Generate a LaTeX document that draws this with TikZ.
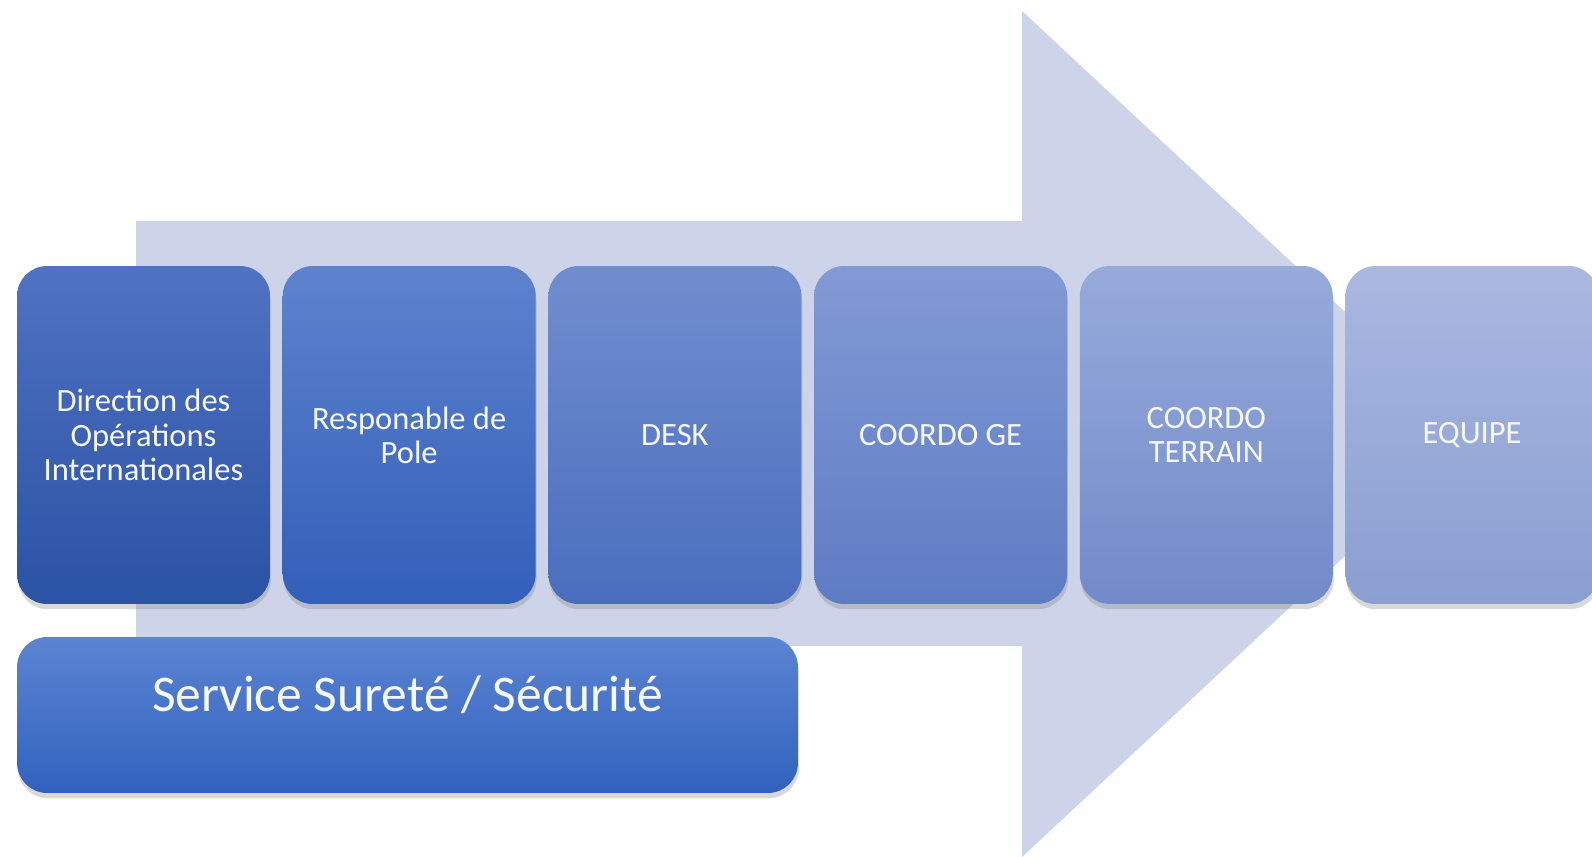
\documentclass[tikz,border=0pt]{standalone}
\usepackage{fontspec}
\setmainfont{Carlito}
\usetikzlibrary{shadows}
% Colours of the arrow and of the boxes
\definecolor{arrowfill}{RGB}{205,212,234}
\definecolor{dirtop}{RGB}{80,114,194}
\definecolor{dirbot}{RGB}{42,82,165}
\definecolor{poletop}{RGB}{94,130,206}
\definecolor{polebot}{RGB}{50,95,185}
\definecolor{desktop}{RGB}{112,141,206}
\definecolor{deskbot}{RGB}{74,110,190}
\definecolor{getop}{RGB}{130,154,213}
\definecolor{gebot}{RGB}{94,124,196}
\definecolor{terraintop}{RGB}{150,170,219}
\definecolor{terrainbot}{RGB}{114,138,201}
\definecolor{equipetop}{RGB}{170,184,225}
\definecolor{equipebot}{RGB}{138,158,209}
\definecolor{secutop}{RGB}{92,132,210}
\definecolor{secubot}{RGB}{48,98,190}
\definecolor{boxtext}{RGB}{246,248,252}
\tikzset{
  stepbox/.style = {rectangle, rounded corners=0.6cm,
    minimum width=5.06cm, minimum height=6.76cm,
    text=boxtext, align=center, font=\fontsize{18.5}{19.5}\selectfont,
    drop shadow={shadow xshift=0.5pt, shadow yshift=-3pt, opacity=0.3}},
  secubox/.style = {rectangle, rounded corners=0.6cm,
    minimum width=15.62cm, minimum height=3.12cm,
    drop shadow={shadow xshift=0.5pt, shadow yshift=-3pt, opacity=0.3}}
}

\begin{document}
\begin{tikzpicture}[x=0.02cm, y=-0.02cm]
    \useasboundingbox (0,0) rectangle (1592,857);
    \clip (0,0) rectangle (1592,857);
    % Big arrow behind the boxes
    \fill[arrowfill] (136,221) -- (1022,221) -- (1022,11) -- (1476,434)
        -- (1022,857) -- (1022,646) -- (136,646) -- cycle;
    % The six steps, from left to right
    \foreach \i/\boxname/\txt/\topcol/\botcol in {
        0/dir/{Direction des\\Opérations\\Internationales}/dirtop/dirbot,
        1/pole/{Responable de\\Pole}/poletop/polebot,
        2/desk/{DESK}/desktop/deskbot,
        3/coordge/{COORDO GE}/getop/gebot,
        4/coordterrain/{COORDO\\TERRAIN}/terraintop/terrainbot,
        5/equipe/{EQUIPE}/equipetop/equipebot}
    \node[stepbox, top color=\topcol, bottom color=\botcol]
        (\boxname) at (143.5 + 265.7*\i, 435) {\txt};
    % Security service under the first steps
    \node[secubox, top color=secutop, bottom color=secubot]
        (secu) at (407.5, 715) {};
    \node[text=boxtext, font=\fontsize{29.3}{33}\selectfont, anchor=base]
        (secutext) at (407.5, 711) {Service Sureté / Sécurité};
\end{tikzpicture}
\end{document}
